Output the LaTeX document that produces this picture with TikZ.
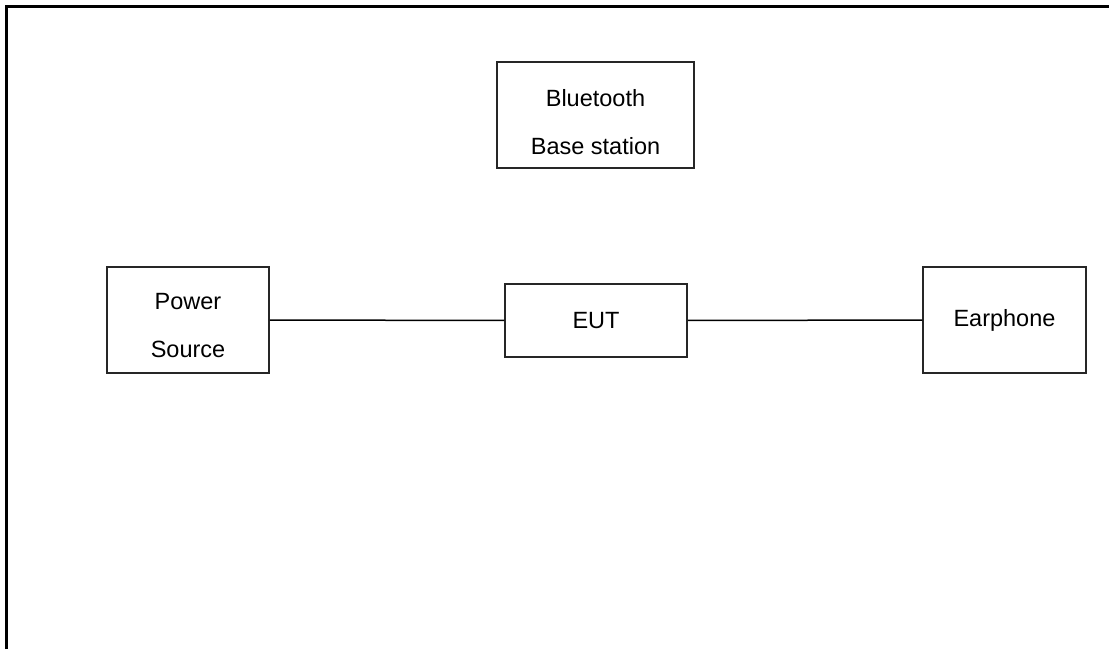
\documentclass[tikz,border=0pt]{standalone}
\usepackage{fontspec}
\setmainfont{Liberation Sans}

\tikzstyle{unit}=[rectangle,
                    line width=1.5pt,
                    draw=black!85,
                    align=center,
                    minimum height=106pt,
                    font=\fontsize{23.5}{48}\selectfont]

\begin{document}
\begin{tikzpicture}[x=1pt,y=-1pt]
    \useasboundingbox (0,0) rectangle (1109,649);
    % frame of the page
    \draw[line width=3pt] (6,649) -- (6,6) -- (1109,6);

    \node (bt) [unit,minimum width=197pt,text height=80pt] at (595.5,115) {Bluetooth\\Base station};
    \node (ps) [unit,minimum width=162pt,text height=76pt] at (188,320) {Power\\Source};
    \node (eut) [unit,minimum width=182pt,minimum height=73pt] at (596,320.5) {EUT};
    \node (ep) [unit,minimum width=163pt] at (1004.5,320) {Earphone};

    % cables
    \path[-]
        (ps) edge[line width=1.5pt] (eut)
        (eut) edge[line width=1.5pt] (ep)
;
\end{tikzpicture}
\end{document}
